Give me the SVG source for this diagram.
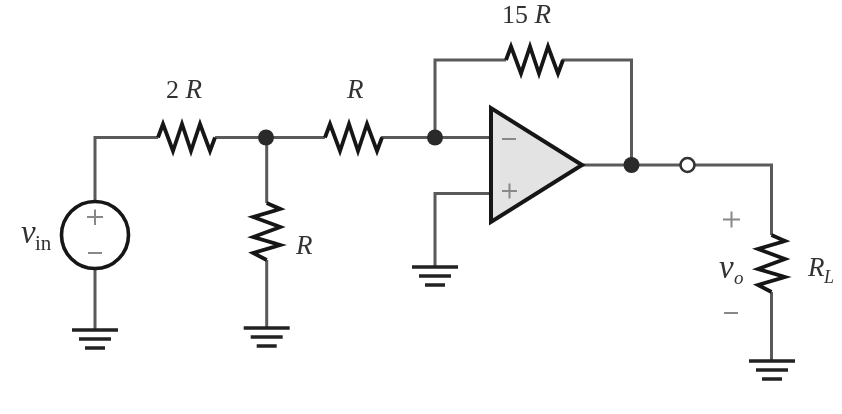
<svg xmlns="http://www.w3.org/2000/svg" width="842" height="414" viewBox="0 0 842 414">
<style>
.w{fill:none;stroke:#5a5a5a;stroke-width:3}
.z{fill:none;stroke:#151515;stroke-width:3.8;stroke-linejoin:miter;stroke-miterlimit:4}
.g{fill:none;stroke:#222;stroke-width:3.6}
.d{fill:#2b2b2b;stroke:none}
text{font-family:"Liberation Serif","Times New Roman",serif;fill:#333}
.i{font-style:italic;font-size:27px}
.v{font-style:italic;font-size:33px}
.n{font-size:26px}
.p{fill:none;stroke:#888;stroke-width:2}
</style>
<defs>
<filter id="soft" x="0" y="0" width="100%" height="100%" filterUnits="userSpaceOnUse"><feGaussianBlur stdDeviation="0.6"/></filter>
<g id="gnd"><path class="g" d="M-23 0H23M-16 9H16M-10 18H10"/></g>
<path id="rh" class="z" d="M0 0L5-13.500 15 13.500 24-13.500 33 13.500 42-13.500 52 13.500 57 0"/>
<path id="rv" class="z" d="M0 0L13.500 6-13.500 14 13.500 24-13.500 34 13.500 42-13.500 50 0 57"/>
</defs>
<g filter="url(#soft)">
<g id="connectors">
<path class="w" d="M95 202V137.5H158M215 137.5H325M381 137.5H491M266.7 137.5V203M266.7 260V328"/>
<path class="w" d="M95 268V330M435 137.5V60H506M562 60H631.5V165M491 193.5H435V267M582 165H771.5V235M771.5 292V361"/>
</g>
<g id="source"><circle cx="95" cy="235" r="33.5" fill="#fff" stroke="#151515" stroke-width="3.6"/>
<path class="p" d="M87 217H103M95 209.500V225M88 253H102"/>
<text class="v" x="21" y="243">v</text><text x="35" y="250" font-size="21">in</text></g>
<g id="r2R"><use href="#rh" x="158" y="137.500"/><text class="n" x="166" y="98">2 <tspan class="i">R</tspan></text></g>
<g id="rR1"><use href="#rh" x="325" y="137.500"/><text class="i" x="347" y="98">R</text></g>
<g id="r15R"><use href="#rh" x="506" y="60"/><text class="n" x="502" y="22.500">15 <tspan class="i">R</tspan></text></g>
<g id="rR2"><use href="#rv" x="266.700" y="203"/><text class="i" x="296" y="254">R</text></g>
<g id="rL"><use href="#rv" x="771.500" y="235"/><text class="i" x="808" y="276">R</text><text x="824" y="283" font-size="18" font-style="italic">L</text></g>
<g id="opamp"><path d="M491 108V222L582 165Z" fill="#e3e3e3" stroke="#151515" stroke-width="4"/>
<path class="p" d="M502 139H516M502 191H517M509.500 183.500V198.500"/></g>
<g id="vo"><path class="p" d="M723 219.500H740M731.500 211.500V227.500M724 313H738"/>
<text class="v" x="719" y="278">v</text><text x="734" y="284" font-size="19" font-style="italic">o</text></g>
<g id="junctions"><circle class="d" cx="266" cy="137.500" r="8"/><circle class="d" cx="435" cy="137.500" r="8"/><circle class="d" cx="631.500" cy="165" r="8"/>
<circle cx="687.500" cy="165" r="7" fill="#fff" stroke="#333" stroke-width="2.600"/></g>
<g id="grounds"><use href="#gnd" x="95" y="330"/><use href="#gnd" x="266.700" y="328"/><use href="#gnd" x="435" y="267"/><use href="#gnd" x="772" y="361"/></g>
</g>
</svg>
